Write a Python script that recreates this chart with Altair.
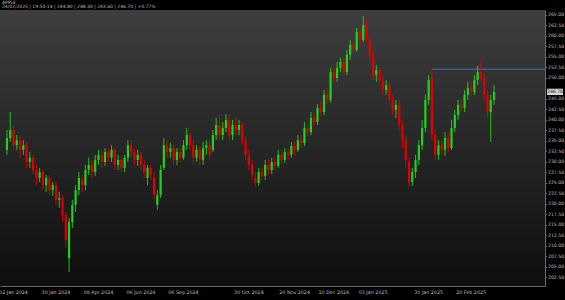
import altair as alt
import pandas as pd

title_text = "APPLE"
info_text = "24/02/2025 | 19:50:14 | 244.80 | 248.30 | 243.60 | 246.70 | +0.77%"

opens = [232.9, 235.7, 237.6, 234.0, 235.2, 232.9, 234.0, 230.0, 231.0, 228.1,
         226.2, 227.6, 224.5, 226.2, 223.3, 224.5, 221.0, 221.4, 217.4, 207.1,
         215.7, 219.8, 223.3, 225.7, 224.5, 228.1, 229.3, 227.6, 230.5, 231.7,
         230.0, 232.4, 231.0, 232.9, 229.3, 230.5, 228.6, 231.0, 234.0, 232.4,
         230.5, 231.7, 229.3, 226.2, 228.6, 226.2, 219.8, 222.1, 228.6, 234.0,
         232.4, 233.3, 230.5, 232.4, 231.0, 234.0, 236.4, 234.0, 231.0, 232.9,
         230.5, 233.3, 234.0, 232.9, 236.4, 238.8, 236.4, 238.1, 240.0, 236.4,
         238.8, 237.6, 238.8, 235.2, 231.7, 229.3, 226.2, 225.0, 227.6, 226.7,
         229.3, 228.1, 230.0, 229.1, 231.7, 230.5, 232.4, 231.7, 233.8, 232.9,
         235.2, 234.5, 238.1, 237.1, 240.5, 239.5, 242.9, 241.9, 246.0, 244.8,
         251.4, 250.0, 252.4, 253.8, 251.4, 255.5, 257.9, 256.7, 261.0, 259.0,
         262.6, 259.0, 255.5, 250.7, 251.9, 249.5, 247.1, 248.3, 244.8, 242.4,
         243.6, 238.8, 235.2, 230.0, 225.2, 227.6, 230.5, 234.0, 238.1, 244.8,
         250.0, 236.4, 231.7, 234.0, 232.9, 235.7, 233.3, 238.1, 241.2, 243.6,
         242.9, 246.0, 247.6, 246.7, 249.5, 251.4, 250.0, 246.0, 241.9, 244.8]

highs = [237.6, 241.9, 238.8, 236.4, 236.4, 235.2, 234.8, 232.4, 231.7, 229.3,
         228.6, 228.1, 226.9, 226.9, 225.2, 225.2, 222.9, 222.1, 218.1, 216.7,
         221.0, 224.5, 227.6, 226.9, 229.3, 231.0, 230.5, 231.7, 232.9, 232.9,
         233.3, 233.3, 234.0, 233.3, 231.7, 231.4, 231.7, 235.2, 235.2, 233.3,
         232.9, 232.4, 230.5, 229.3, 229.3, 227.6, 223.3, 229.3, 235.7, 235.2,
         234.5, 234.0, 233.3, 233.3, 235.2, 238.1, 237.1, 235.2, 234.0, 233.8,
         234.8, 235.2, 235.2, 237.6, 240.5, 241.2, 239.5, 241.4, 241.2, 240.0,
         240.5, 240.0, 239.5, 236.2, 232.9, 230.5, 227.6, 228.6, 228.6, 230.5,
         230.5, 231.0, 231.0, 232.9, 232.9, 233.3, 233.3, 234.8, 234.8, 236.4,
         236.4, 239.5, 239.1, 241.9, 241.4, 243.8, 244.3, 247.1, 247.6, 252.4,
         252.9, 253.8, 254.8, 254.8, 256.7, 259.0, 259.5, 261.9, 261.9, 264.8,
         263.8, 260.2, 256.7, 253.1, 252.9, 250.7, 249.5, 249.1, 246.0, 244.8,
         244.8, 240.0, 236.4, 231.0, 228.6, 231.7, 235.2, 240.0, 246.0, 250.7,
         252.1, 237.6, 235.2, 235.2, 237.1, 237.1, 240.0, 242.4, 244.8, 245.2,
         247.1, 249.1, 249.1, 250.7, 252.9, 254.3, 251.0, 247.1, 246.0, 248.3]

lows = [231.7, 234.8, 232.9, 232.9, 231.0, 231.7, 228.6, 228.6, 226.9, 224.5,
        225.2, 223.3, 222.9, 222.1, 221.9, 219.8, 219.1, 215.7, 209.5, 203.8,
        214.3, 218.1, 222.1, 222.9, 223.3, 226.9, 226.2, 226.7, 229.3, 228.6,
        229.1, 230.0, 230.0, 228.1, 228.1, 227.6, 227.6, 230.0, 231.0, 229.3,
        229.1, 228.1, 226.2, 224.5, 225.7, 221.0, 218.6, 221.4, 228.1, 231.0,
        231.0, 229.3, 229.3, 230.0, 230.5, 232.9, 232.9, 229.3, 230.0, 229.1,
        229.3, 231.7, 230.5, 232.4, 235.2, 235.2, 235.2, 237.1, 235.2, 235.2,
        236.4, 236.4, 234.0, 230.5, 228.1, 225.7, 224.1, 224.3, 225.7, 225.7,
        226.9, 227.1, 228.1, 228.6, 229.5, 229.8, 230.5, 231.0, 231.7, 232.4,
        233.3, 233.8, 236.2, 236.4, 238.6, 238.8, 241.0, 241.2, 243.8, 244.1,
        249.1, 249.1, 251.4, 250.5, 250.7, 254.3, 255.5, 256.2, 257.9, 258.6,
        258.6, 254.3, 249.5, 249.1, 248.3, 246.0, 246.0, 243.6, 241.2, 240.5,
        237.6, 233.3, 228.6, 224.3, 224.3, 226.2, 229.3, 232.9, 237.1, 243.6,
        235.2, 230.5, 230.5, 231.7, 231.4, 232.4, 232.9, 237.1, 240.0, 241.9,
        241.9, 244.8, 245.7, 246.0, 248.3, 249.1, 244.8, 240.5, 234.8, 243.6]

closes = [235.7, 237.6, 234.0, 235.2, 232.9, 234.0, 230.0, 231.0, 228.1, 226.2,
          227.6, 224.5, 226.2, 223.3, 224.5, 221.0, 221.4, 217.4, 211.4, 215.7,
          219.8, 223.3, 226.2, 224.5, 228.1, 229.3, 227.6, 230.5, 231.7, 230.0,
          232.4, 231.0, 232.9, 229.3, 230.5, 228.6, 231.0, 234.0, 232.4, 230.5,
          231.7, 229.3, 227.6, 228.6, 226.9, 222.1, 222.1, 228.1, 234.0, 232.4,
          233.3, 230.5, 232.4, 231.0, 234.0, 236.4, 234.0, 231.0, 232.9, 230.5,
          233.3, 234.0, 231.7, 236.4, 238.8, 236.4, 238.1, 240.0, 236.4, 238.8,
          237.6, 238.8, 235.2, 231.7, 229.3, 226.9, 225.0, 227.6, 226.7, 229.3,
          228.1, 230.0, 229.1, 231.7, 230.5, 232.4, 231.7, 233.8, 232.9, 235.2,
          234.5, 238.1, 237.1, 240.5, 239.5, 242.9, 241.9, 246.0, 244.8, 251.4,
          250.0, 252.4, 253.8, 251.4, 255.5, 257.9, 256.7, 261.0, 259.0, 262.6,
          259.5, 255.5, 250.7, 251.9, 249.5, 247.1, 248.3, 244.8, 242.4, 243.6,
          238.8, 235.2, 230.5, 225.2, 227.6, 230.5, 234.0, 238.1, 244.8, 249.5,
          236.4, 231.7, 234.0, 232.9, 235.7, 233.3, 238.1, 241.2, 243.6, 242.9,
          246.0, 247.6, 246.7, 249.5, 251.4, 250.0, 246.0, 241.9, 244.8, 246.7]

tick_index = [2, 15, 28, 41, 54, 74, 88, 100, 112, 129, 142]
tick_labels = ["02 Jan 2024", "30 Jan 2024", "08 Apr 2024", "06 Jun 2024", "06 Sep 2024",
               "30 Oct 2024", "20 Nov 2024", "10 Dec 2024", "03 Jan 2025", "30 Jan 2025",
               "20 Feb 2025"]
y_ticks = [202.5, 205.0, 207.5, 210.0, 212.5, 215.0, 217.5, 220.0, 222.5, 225.0,
           227.5, 230.0, 232.5, 235.0, 237.5, 240.0, 242.5, 245.0, 250.0,
           252.5, 255.0, 257.5, 260.0, 262.5, 265.0]

resistance_start = 130
resistance_level = 252.1

W, H = 545, 276
FONT = "DejaVu Sans"
LABEL_COLOR = "#bdbdbd"

df = pd.DataFrame({"i": list(range(len(closes))), "open": opens, "high": highs,
                   "low": lows, "close": closes})
df["dir"] = ["up" if c >= o else "down" for o, c in zip(opens, closes)]

xscale = alt.Scale(domain=[-0.6, 163.07], nice=False, zero=False)
yscale = alt.Scale(domain=[200.47, 266.19], nice=False, zero=False)
xaxis = alt.Axis(title=None, labels=False, ticks=False, grid=False, values=tick_index,
                 domainColor="#6a6a6a", domainWidth=1)
yaxis = alt.Axis(title=None, orient="right", values=y_ticks, format=".2f", labelFontSize=4.6,
                 labelColor=LABEL_COLOR, labelFont=FONT, tickSize=1.5, tickColor="#6a6a6a",
                 domainColor="#6a6a6a", grid=False, labelPadding=1, labelOverlap=False)


def X(f):
    return alt.X(f, scale=xscale, axis=xaxis)


def Y(f):
    return alt.Y(f, scale=yscale, axis=yaxis)


color = alt.Color("dir:N", scale=alt.Scale(domain=["up", "down"], range=["#1ed21e", "#e00000"]),
                  legend=None)

bg = alt.Chart(pd.DataFrame({"a": [0]})).mark_rect(
    color=alt.Gradient(gradient="linear",
                       stops=[alt.GradientStop(color="#3e3e3e", offset=0),
                              alt.GradientStop(color="#0e0e0e", offset=1)],
                       x1=0, x2=0, y1=0, y2=1)
).encode(x=alt.value(0), x2=alt.value(W), y=alt.value(0), y2=alt.value(H))

level = alt.Chart(pd.DataFrame({"start": [resistance_start], "level": [resistance_level]})).mark_rule(
    color="#4671b0", strokeWidth=1
).encode(x=X("start:Q"), x2=alt.value(W), y=Y("level:Q"))

wicks = alt.Chart(df).mark_rule(strokeWidth=0.9).encode(
    x=X("i:Q"), y=Y("low:Q"), y2="high:Q", color=color)

bodies = alt.Chart(df).mark_bar(size=2.2).encode(
    x=X("i:Q"), y=Y("open:Q"), y2="close:Q", color=color)

last_df = pd.DataFrame({"close": [closes[-1]]})
price_box = alt.Chart(last_df).transform_calculate(
    top="datum.close + 0.75", bot="datum.close - 0.75"
).mark_rect(color="#d6d6d6").encode(
    x=alt.value(W + 2), x2=alt.value(W + 18), y=Y("top:Q"), y2="bot:Q")

price_text = alt.Chart(last_df).mark_text(fontSize=4.6, color="#111111", font=FONT).encode(
    x=alt.value(W + 10), y=Y("close:Q"), text=alt.Text("close:Q", format=".2f"))

xlabels = alt.Chart(pd.DataFrame({"i": tick_index, "label": tick_labels})).mark_text(
    fontSize=4.8, color=LABEL_COLOR, font=FONT, baseline="middle"
).encode(x=X("i:Q"), y=alt.value(H + 7), text="label:N")

header_df = pd.DataFrame({"t": [title_text, info_text]})
title_mark = alt.Chart(header_df).transform_filter("datum.t == '" + title_text + "'").mark_text(
    fontSize=4.5, color=LABEL_COLOR, font=FONT, align="left", baseline="middle"
).encode(x=alt.value(2), y=alt.value(-7.5), text="t:N")
info_mark = alt.Chart(header_df).transform_filter("datum.t != '" + title_text + "'").mark_text(
    fontSize=4.5, color=LABEL_COLOR, font=FONT, align="left", baseline="middle"
).encode(x=alt.value(2), y=alt.value(-3.5), text="t:N")

chart = alt.layer(bg, level, wicks, bodies, price_box, price_text, xlabels, title_mark, info_mark).properties(
    width=W, height=H,
    padding={"left": 0, "top": 10, "right": 20, "bottom": 14},
    autosize=alt.AutoSizeParams(type="none"),
    background="#000000",
).configure_view(stroke=None)

chart.save("out.html", embed_options={"renderer": "svg", "actions": False})
